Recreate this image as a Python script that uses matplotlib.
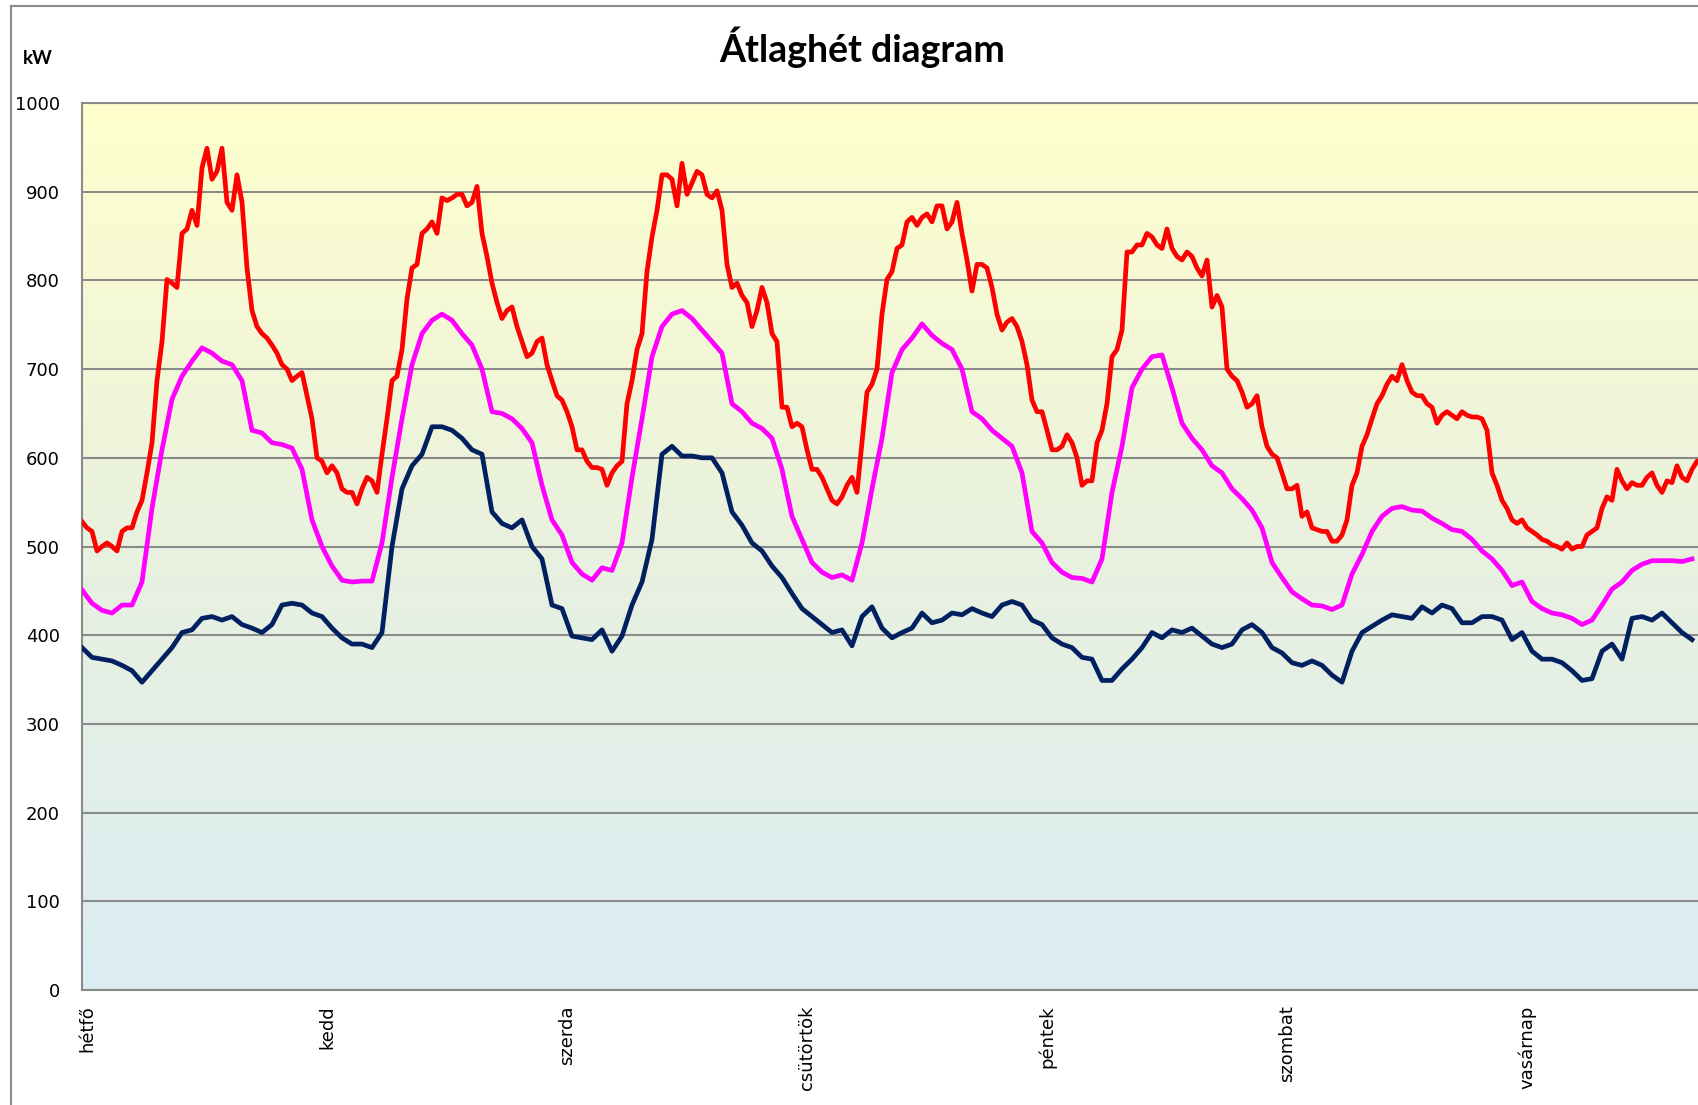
import matplotlib

matplotlib.use("Agg")

import matplotlib.pyplot as plt
import numpy as np
from matplotlib.colors import LinearSegmentedColormap
from matplotlib.lines import Line2D

# averages (kW) starting Monday 00:00; the chart is cropped on the right
DAYS = ["hétfő", "kedd", "szerda", "csütörtök", "péntek", "szombat", "vasárnap"]

# maximum curve, half-hourly
max_kw = [
    528, 521, 517, 495, 500, 504, 500, 495, 517, 521, 521, 539, 552, 583, 617, 687,
    731, 801, 797, 792, 853, 858, 879, 862, 927, 949, 914, 923, 949, 888, 879, 919,
    888, 814, 766, 748, 740, 735, 727, 718, 705, 700, 687, 692, 696, 670, 644, 600,
    596, 583, 591, 583, 565, 561, 561, 548, 565, 578, 574, 561, 604, 644, 687, 692,
    722, 779, 814, 818, 853, 858, 866, 853, 893, 890, 893, 897, 897, 884, 888, 906,
    853, 827, 797, 775, 757, 766, 770, 748, 731, 714, 718, 731, 735, 705, 687, 670,
    665, 652, 635, 609, 609, 596, 589, 589, 587, 569, 583, 591, 596, 661, 687, 722,
    740, 810, 849, 879, 919, 919, 914, 884, 932, 897, 910, 923, 919, 897, 893, 901,
    879, 818, 792, 797, 783, 775, 748, 766, 792, 775, 740, 731, 657, 657, 635, 639,
    635, 609, 587, 587, 578, 565, 552, 548, 556, 569, 578, 561, 617, 674, 683, 700,
    762, 801, 810, 836, 840, 866, 871, 862, 871, 875, 866, 884, 884, 858, 866, 888,
    853, 823, 788, 818, 818, 814, 792, 762, 744, 753, 757, 748, 731, 705, 665, 652,
    652, 631, 609, 609, 613, 626, 617, 600, 569, 574, 574, 617, 631, 661, 714, 722,
    744, 832, 832, 840, 840, 853, 849, 840, 836, 858, 836, 827, 823, 832, 827, 814,
    805, 823, 770, 783, 770, 700, 692, 687, 674, 657, 661, 670, 635, 613, 604, 600,
    583, 565, 565, 569, 534, 539, 521, 519, 517, 517, 506, 506, 513, 530, 569, 583,
    613, 626, 644, 661, 670, 683, 692, 687, 705, 687, 674, 670, 670, 661, 657, 639,
    648, 652, 648, 644, 652, 648, 646, 646, 644, 631, 583, 569, 552, 543, 530, 526,
    530, 521, 517, 513, 508, 506, 502, 500, 497, 504, 497, 500, 500, 513, 517, 521,
    543, 556, 552, 587, 574, 565, 572, 569, 569, 578, 583, 569, 561, 574, 572, 591,
    578, 574, 587, 596,
]

# average curve, hourly
avg_kw = [
    451, 436, 428, 425, 434, 434, 460, 543, 609, 666, 692, 709, 724, 718, 709, 705,
    687, 631, 628, 617, 615, 611, 587, 530, 500, 478, 462, 460, 461, 461, 504, 578,
    644, 705, 740, 755, 762, 755, 740, 727, 700, 652, 650, 644, 633, 617, 569, 530,
    513, 482, 469, 462, 476, 473, 504, 578, 644, 714, 748, 762, 766, 757, 744, 731,
    718, 661, 652, 639, 633, 622, 587, 534, 508, 482, 471, 465, 468, 462, 504, 565,
    622, 696, 722, 735, 751, 738, 729, 722, 700, 652, 644, 631, 622, 613, 583, 517,
    504, 482, 471, 465, 464, 460, 486, 561, 613, 679, 700, 714, 716, 679, 639, 622,
    609, 591, 583, 565, 554, 541, 521, 482, 465, 449, 441, 434, 433, 429, 434, 469,
    491, 517, 534, 543, 545, 541, 540, 532, 526, 519, 517, 508, 495, 486, 473, 456,
    460, 438, 430, 425, 423, 419, 412, 417, 434, 452, 460, 473, 480, 484, 484, 484,
    483, 486,
]

# minimum curve, hourly
min_kw = [
    386, 375, 373, 371, 366, 360, 347, 360, 373, 386, 403, 406, 419, 421, 417, 421,
    412, 408, 403, 412, 434, 436, 434, 425, 421, 408, 397, 390, 390, 386, 403, 500,
    565, 591, 604, 635, 635, 631, 622, 609, 604, 539, 526, 521, 530, 500, 486, 434,
    430, 399, 397, 395, 406, 382, 399, 434, 460, 508, 604, 613, 602, 602, 600, 600,
    583, 539, 524, 504, 495, 478, 465, 447, 430, 421, 412, 403, 406, 388, 421, 432,
    408, 397, 403, 408, 425, 414, 417, 425, 423, 430, 425, 421, 434, 438, 434, 417,
    412, 397, 390, 386, 375, 373, 349, 349, 362, 373, 386, 403, 397, 406, 403, 408,
    399, 390, 386, 390, 406, 412, 403, 386, 380, 369, 366, 371, 366, 355, 347, 382,
    403, 410, 417, 423, 421, 419, 432, 425, 434, 430, 414, 414, 421, 421, 417, 395,
    403, 382, 373, 373, 369, 360, 349, 351, 382, 390, 373, 419, 421, 417, 425, 414,
    403, 395,
]

HOURS_PER_DAY = 24
W, H, DPI = 1698, 1105, 100

fig = plt.figure(figsize=(W / DPI, H / DPI), dpi=DPI)
fig.patch.set_facecolor("white")

# plot area runs past the right edge of the picture, as in the screenshot
ax = fig.add_axes([82 / W, 1 - 990 / H, 1680 / W, 887 / H])
ax.set_xlim(0, 7 * HOURS_PER_DAY)
ax.set_ylim(0, 1000)

grad = LinearSegmentedColormap.from_list("bg", ["#dbedf3", "#e9f1df", "#ffffcc"])
ax.imshow(np.linspace(0, 1, 256).reshape(-1, 1), cmap=grad, origin="lower",
          extent=[0, 7 * HOURS_PER_DAY, 0, 1000], aspect="auto", zorder=0)

ax.set_yticks(range(0, 1001, 100))
ax.yaxis.grid(True, color="#8a8a8a", linewidth=1.5, zorder=1)
ax.set_axisbelow(False)

curves = (
    (np.arange(len(max_kw)) / 2, max_kw, "#ff0000"),
    (np.arange(len(avg_kw)), avg_kw, "#ff00ff"),
    (np.arange(len(min_kw)), min_kw, "#002060"),
)
for x, series, color in curves:
    ax.plot(x, series, color=color, linewidth=3.4, solid_joinstyle="round", zorder=3)

ax.set_xticks([d * HOURS_PER_DAY + 0.5 for d in range(len(DAYS))])
ax.set_xticklabels(DAYS, rotation=90, va="top", ha="center")
ax.tick_params(axis="x", length=0, pad=11, labelsize=13)
ax.tick_params(axis="y", length=0, pad=16, labelsize=13)
for lbl in ax.get_xticklabels() + ax.get_yticklabels():
    lbl.set_family("DejaVu Sans")

for side in ("left", "top", "bottom"):
    ax.spines[side].set_color("#8a8a8a")
    ax.spines[side].set_linewidth(1.5)
ax.spines["right"].set_visible(False)

fig.text(862 / W, 1 - 47 / H, "Átlaghét diagram", ha="center", va="center",
         fontsize=27, fontweight="bold", family="Lato")
fig.text(38 / W, 1 - 58 / H, "kW", ha="center", va="center",
         fontsize=13.5, fontweight="bold", family="Lato")

# outer chart frame (only left and top edges fall inside the picture)
fig.add_artist(Line2D([11 / W, 11 / W], [0, 1 - 6 / H], color="#8c8c8c", linewidth=1.5))
fig.add_artist(Line2D([11 / W, 1], [1 - 6 / H, 1 - 6 / H], color="#8c8c8c", linewidth=1.5))

fig.savefig("out.png", dpi=DPI)
